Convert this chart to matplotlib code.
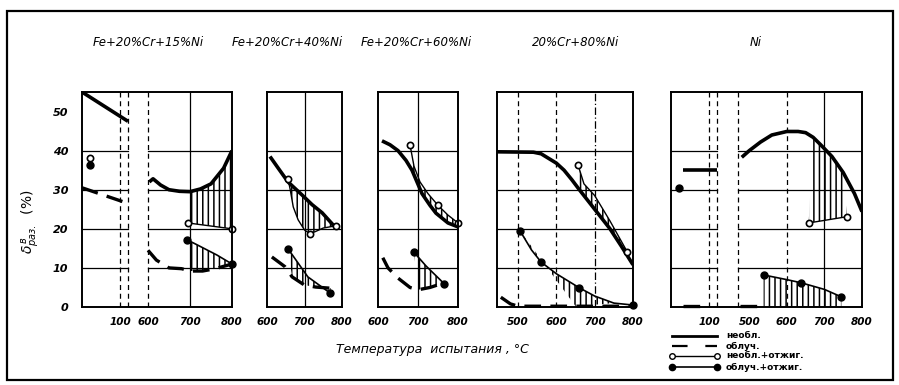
import numpy as np
import matplotlib
matplotlib.use('Agg')
import matplotlib.pyplot as plt
from matplotlib.lines import Line2D
from matplotlib.patches import Rectangle

plt.rcParams['font.family'] = ['DejaVu Sans']
plt.rcParams['mathtext.fontset'] = 'dejavusans'
plt.rcParams['hatch.linewidth'] = 1.1

# ---------------- data ----------------
titles = ["Fe+20%Cr+15%Ni", "Fe+20%Cr+40%Ni", "Fe+20%Cr+60%Ni", "20%Cr+80%Ni", "Ni"]
y_ticks = [0, 10, 20, 30, 40, 50]
x_ticks = [[100, 600, 700, 800], [600, 700, 800], [600, 700, 800],
           [500, 600, 700, 800], [100, 500, 600, 700, 800]]

# Panel 1: Fe+20%Cr+15%Ni  (left section = room temperature part)
p1_unirr_room_T = [0, 120]
p1_unirr_room_v = [55, 47.5]
p1_irr_room_T = [0, 120]
p1_irr_room_v = [30.5, 26.5]
p1_ann_room_T = [20]
p1_unirr_ann_room_v = [38.0]
p1_irr_ann_room_v = [36.4]
p1_unirr_T = [603, 612, 630, 650, 675, 700, 725, 750, 780, 800]
p1_unirr_v = [32, 32.8, 31.2, 30, 29.6, 29.5, 30.2, 31.5, 35.5, 40]
p1_irr_T = [600, 620, 650, 680, 700, 730, 760, 800]
p1_irr_v = [14.5, 12, 10, 9.8, 9.2, 9.2, 9.8, 11]
p1_unirr_ann_T = [695, 800]
p1_unirr_ann_v = [21.5, 20]
p1_irr_ann_T = [693, 717, 764, 800]
p1_irr_ann_v = [17.2, 15.9, 13.3, 11]

# Panel 2: Fe+20%Cr+40%Ni
p2_unirr_T = [608, 630, 656, 693, 720, 747, 781]
p2_unirr_v = [38.5, 35.5, 32, 28.7, 26.2, 24.1, 20.5]
p2_irr_T = [613, 648, 667, 700, 730, 770]
p2_irr_v = [12.8, 10.3, 7.7, 5.6, 5.1, 4.8]
p2_unirr_ann_T = [656, 662, 670, 683, 700, 715, 750, 785]
p2_unirr_ann_v = [32.8, 30, 25.6, 22.3, 19.7, 18.7, 20.2, 20.8]
p2_irr_ann_T = [656, 709, 768]
p2_irr_ann_v = [14.9, 7.7, 3.6]

# Panel 3: Fe+20%Cr+60%Ni
p3_unirr_T = [610, 630, 650, 670, 685, 710, 730, 745, 775, 800]
p3_unirr_v = [42.5, 41.5, 40, 37.5, 35, 29, 26, 24, 21.5, 20.5]
p3_irr_T = [612, 625, 650, 680, 700, 730, 760]
p3_irr_v = [12.6, 10, 7.4, 5, 4.4, 5, 6]
p3_unirr_ann_T = [680, 690, 705, 725, 750, 775, 800]
p3_unirr_ann_v = [41.5, 36, 32, 29, 26, 23.5, 21.5]
p3_irr_ann_T = [690, 720, 745, 765]
p3_irr_ann_v = [14, 10.5, 8, 6]

# Panel 4: 20%Cr+80%Ni
p4_unirr_T = [445, 540, 560, 580, 600, 620, 640, 660, 700, 740, 770, 800]
p4_unirr_v = [39.7, 39.6, 39.2, 38, 36.8, 35, 32.6, 30, 25, 20, 15.5, 10.8]
p4_irr_T = [455, 480, 500, 650, 800]
p4_irr_v = [2.5, 0.8, 0.2, 0.2, 0.2]
p4_unirr_ann_T = [657, 672, 700, 740, 785]
p4_unirr_ann_v = [36.2, 31.5, 28.5, 22, 14.1]
p4_irr_ann_T = [505, 535, 560, 600, 660, 700, 750, 800]
p4_irr_ann_v = [19.5, 14.6, 11.5, 8.5, 4.9, 2.8, 1.0, 0.5]

# Panel 5: Ni
p5_unirr_room_T = [30, 120]
p5_unirr_room_v = [35, 35]
p5_irr_room_T = [30, 75]
p5_irr_room_v = [0.3, 0.3]
p5_irr_ann_room_T = [20]
p5_irr_ann_room_v = [30.5]
p5_unirr_T = [480, 500, 530, 560, 600, 630, 650, 670, 690, 720, 750, 780, 800]
p5_unirr_v = [38.3, 40, 42.2, 44, 44.9, 44.9, 44.6, 43.4, 41.5, 38.5, 34.4, 29, 24.4]
p5_irr_T = [475, 540]
p5_irr_v = [0.3, 0.3]
p5_unirr_ann_T = [658, 760]
p5_unirr_ann_v = [21.5, 23.1]
p5_irr_ann_T = [538, 600, 638, 700, 745]
p5_irr_ann_v = [8.2, 7, 6.2, 4.5, 2.6]

legend_labels = ["необл.", "облуч.", "необл.+отжиг.", "облуч.+отжиг."]
xlabel = "Температура  испытания , °C"
ylabel = r"$\delta_{раз.}^{\,в}$  (%)"

# ---------------- layout ----------------
W, H = 899, 385
fig = plt.figure(figsize=(W / 100, H / 100), dpi=100)
fig.patch.set_facecolor('white')


def fx(x):
    return x / W


def fy(y):
    return 1 - y / H


Y_BOT, Y_TOP = 307, 92
panel_px = [(82, 232), (267, 342), (378, 458), (497, 633), (671, 862)]

UNIRR = dict(color='black', lw=2.6, solid_capstyle='butt', solid_joinstyle='round')
IRR = dict(color='black', lw=2.4, linestyle=(0, (5, 2.8)), dash_capstyle='butt')
UA = dict(color='black', lw=1.0, marker='o', ms=4.5, mfc='white', mec='black', mew=1.2)
IA = dict(color='black', lw=1.2, marker='o', ms=5, mfc='black', mec='black')
GRID = dict(color='black', lw=0.9)
DGRID = dict(color='black', lw=0.9, linestyle=(0, (4, 3)))


def make_axes(i):
    x0, x1 = panel_px[i]
    ax = fig.add_axes([fx(x0), fy(Y_BOT), (x1 - x0) / W, (Y_BOT - Y_TOP) / H])
    ax.set_ylim(0, 55)
    for s in ax.spines.values():
        s.set_linewidth(1.4)
    ax.tick_params(length=0, pad=7)
    ax.set_yticks([])
    return ax


def broken_scale(ax, Tk, Pk):
    Tk = np.asarray(Tk, float)
    Pk = np.asarray(Pk, float)
    ax.set_xscale('function', functions=(lambda t: np.interp(t, Tk, Pk),
                                         lambda p: np.interp(p, Pk, Tk)))


def hatch_between(ax, Ta, va, Tb, vb, lo, hi, hatch='|||'):
    Ta, va, Tb, vb = map(np.asarray, (Ta, va, Tb, vb))
    ma = (Ta >= lo) & (Ta <= hi)
    mb = (Tb >= lo) & (Tb <= hi)
    xs = np.concatenate([Ta[ma], Tb[mb][::-1]])
    ys = np.concatenate([va[ma], vb[mb][::-1]])
    ax.fill(xs, ys, facecolor='none', edgecolor='black', hatch=hatch, linewidth=0)


def ticklabels(ax, i):
    ax.set_xticks(x_ticks[i])
    ax.set_xticklabels([str(t) for t in x_ticks[i]], fontsize=7.5,
                       fontweight='bold', fontstyle='italic')


hl = [10, 20, 30, 40]

# ---- Panel 1 ----
ax = make_axes(0)
broken_scale(ax, [0, 120, 600, 800], [0, 46, 66, 150])
ax.set_xlim(0, 800)
for v in hl:
    ax.plot([0, 120], [v, v], **GRID)
    ax.plot([600, 800], [v, v], **GRID)
for t in [100, 120, 600]:
    ax.plot([t, t], [0, 55], **DGRID)
ax.plot([700, 700], [0, 55], **GRID)
hatch_between(ax, p1_unirr_ann_T, p1_unirr_ann_v, p1_unirr_T, p1_unirr_v, 695, 800)
hatch_between(ax, p1_irr_ann_T, p1_irr_ann_v, p1_irr_T, p1_irr_v, 693, 800)
ax.plot(p1_unirr_room_T, p1_unirr_room_v, **UNIRR)
ax.plot(p1_irr_room_T, p1_irr_room_v, **IRR)
ax.plot(p1_unirr_T, p1_unirr_v, **UNIRR)
ax.plot(p1_irr_T, p1_irr_v, **IRR)
ax.plot(p1_ann_room_T, p1_irr_ann_room_v, **IA)
ax.plot(p1_ann_room_T, p1_unirr_ann_room_v, **UA)
ax.plot(p1_unirr_ann_T, p1_unirr_ann_v, clip_on=False, **UA)
ax.plot(p1_irr_ann_T, p1_irr_ann_v, markevery=[0, 3], clip_on=False, **IA)
ticklabels(ax, 0)
ax.set_yticks(y_ticks)
ax.set_yticklabels([str(t) for t in y_ticks], fontsize=8, fontweight='bold',
                   fontstyle='italic')
ax.tick_params(axis='y', pad=10)

# ---- Panel 2 ----
ax = make_axes(1)
ax.set_xlim(600, 800)
for v in hl:
    ax.plot([600, 800], [v, v], **GRID)
ax.plot([700, 700], [0, 55], **GRID)
hatch_between(ax, p2_unirr_ann_T, p2_unirr_ann_v, p2_unirr_T, p2_unirr_v, 656, 785)
hatch_between(ax, p2_irr_ann_T, p2_irr_ann_v, p2_irr_T, p2_irr_v, 656, 770)
ax.plot(p2_unirr_T, p2_unirr_v, **UNIRR)
ax.plot(p2_irr_T, p2_irr_v, **IRR)
ax.plot(p2_unirr_ann_T, p2_unirr_ann_v, markevery=[0, 5, 7], **UA)
ax.plot(p2_irr_ann_T, p2_irr_ann_v, markevery=[0, 2], **IA)
ticklabels(ax, 1)

# ---- Panel 3 ----
ax = make_axes(2)
ax.set_xlim(600, 800)
for v in hl:
    ax.plot([600, 800], [v, v], **GRID)
ax.plot([700, 700], [0, 55], **GRID)
hatch_between(ax, p3_unirr_ann_T, p3_unirr_ann_v, p3_unirr_T, p3_unirr_v, 680, 800)
hatch_between(ax, p3_irr_ann_T, p3_irr_ann_v, p3_irr_T, p3_irr_v, 690, 765)
ax.plot(p3_unirr_T, p3_unirr_v, **UNIRR)
ax.plot(p3_irr_T, p3_irr_v, **IRR)
ax.plot(p3_unirr_ann_T, p3_unirr_ann_v, markevery=[0, 4, 6], clip_on=False, **UA)
ax.plot(p3_irr_ann_T, p3_irr_ann_v, markevery=[0, 3], **IA)
ticklabels(ax, 2)

# ---- Panel 4 ----
ax = make_axes(3)
ax.set_xlim(445, 800)
for v in hl:
    ax.plot([445, 800], [v, v], **GRID)
ax.plot([500, 500], [0, 55], **DGRID)
ax.plot([600, 600], [0, 55], **DGRID)
ax.plot([700, 700], [0, 55], color='black', lw=0.9, linestyle=(0, (6, 2, 1, 2)))
hatch_between(ax, p4_unirr_ann_T, p4_unirr_ann_v, p4_unirr_T, p4_unirr_v, 657, 800)
hatch_between(ax, p4_irr_ann_T, p4_irr_ann_v, p4_irr_T, p4_irr_v, 505, 790)
ax.plot(p4_unirr_T, p4_unirr_v, **UNIRR)
ax.plot(p4_irr_T, p4_irr_v, clip_on=False, **IRR)
ax.plot(p4_unirr_ann_T, p4_unirr_ann_v, markevery=[0, 4], **UA)
ax.plot(p4_irr_ann_T, p4_irr_ann_v, markevery=[0, 2, 4, 7], clip_on=False, **IA)
ticklabels(ax, 3)

# ---- Panel 5 ----
ax = make_axes(4)
broken_scale(ax, [0, 120, 470, 800], [0, 46, 67, 191])
ax.set_xlim(0, 800)
for v in hl:
    ax.plot([0, 120], [v, v], **GRID)
    ax.plot([470, 800], [v, v], **GRID)
for t in [100, 120, 470, 600]:
    ax.plot([t, t], [0, 55], **DGRID)
ax.plot([700, 700], [0, 55], **GRID)
hatch_between(ax, p5_unirr_ann_T, p5_unirr_ann_v, p5_unirr_T, p5_unirr_v, 658, 760)
ax.fill_between(p5_irr_ann_T, 0, p5_irr_ann_v, facecolor='none', edgecolor='black',
                hatch='|||', linewidth=0)
ax.plot(p5_unirr_room_T, p5_unirr_room_v, **UNIRR)
ax.plot(p5_irr_room_T, p5_irr_room_v, clip_on=False, **IRR)
ax.plot(p5_irr_ann_room_T, p5_irr_ann_room_v, **IA)
ax.plot(p5_unirr_T, p5_unirr_v, **UNIRR)
ax.plot(p5_irr_T, p5_irr_v, clip_on=False, **IRR)
ax.plot(p5_unirr_ann_T, p5_unirr_ann_v, **UA)
ax.plot(p5_irr_ann_T, p5_irr_ann_v, markevery=[0, 2, 4], **IA)
ticklabels(ax, 4)

# ---- titles ----
title_cx = [148, 287, 416, 576, 756]
for t, cx in zip(titles, title_cx):
    fig.text(fx(cx), fy(43), t, ha='center', va='center', fontsize=8.5,
             fontstyle='italic')

# axis labels
fig.text(fx(432), fy(350), xlabel, ha='center', va='center', fontsize=9,
         fontstyle='italic')
fig.text(fx(30), fy(222), ylabel, ha='center', va='center', fontsize=10,
         rotation=90)

# ---- legend (hand-drawn style) ----
rows_y = [336, 346, 356, 367]
styles = [dict(color='black', lw=2.0),
          dict(color='black', lw=1.6, linestyle=(0, (7, 8))),
          dict(color='black', lw=1.0, marker='o', ms=4, mfc='white', mec='black', mew=1.0),
          dict(color='black', lw=1.2, marker='o', ms=4.5, mfc='black', mec='black')]
for yy, st, lab in zip(rows_y, styles, legend_labels):
    fig.add_artist(Line2D([fx(672), fx(717)], [fy(yy), fy(yy)],
                          transform=fig.transFigure, **st))
    fig.text(fx(726), fy(yy), lab, ha='left', va='center', fontsize=6.5,
             fontweight='bold')

# outer frame
fig.add_artist(Rectangle((fx(7), fy(380)), (893 - 7) / W, (380 - 11) / H,
                         transform=fig.transFigure, fill=False, lw=1.6,
                         edgecolor='black'))

fig.savefig('out.png', dpi=100, facecolor='white')
